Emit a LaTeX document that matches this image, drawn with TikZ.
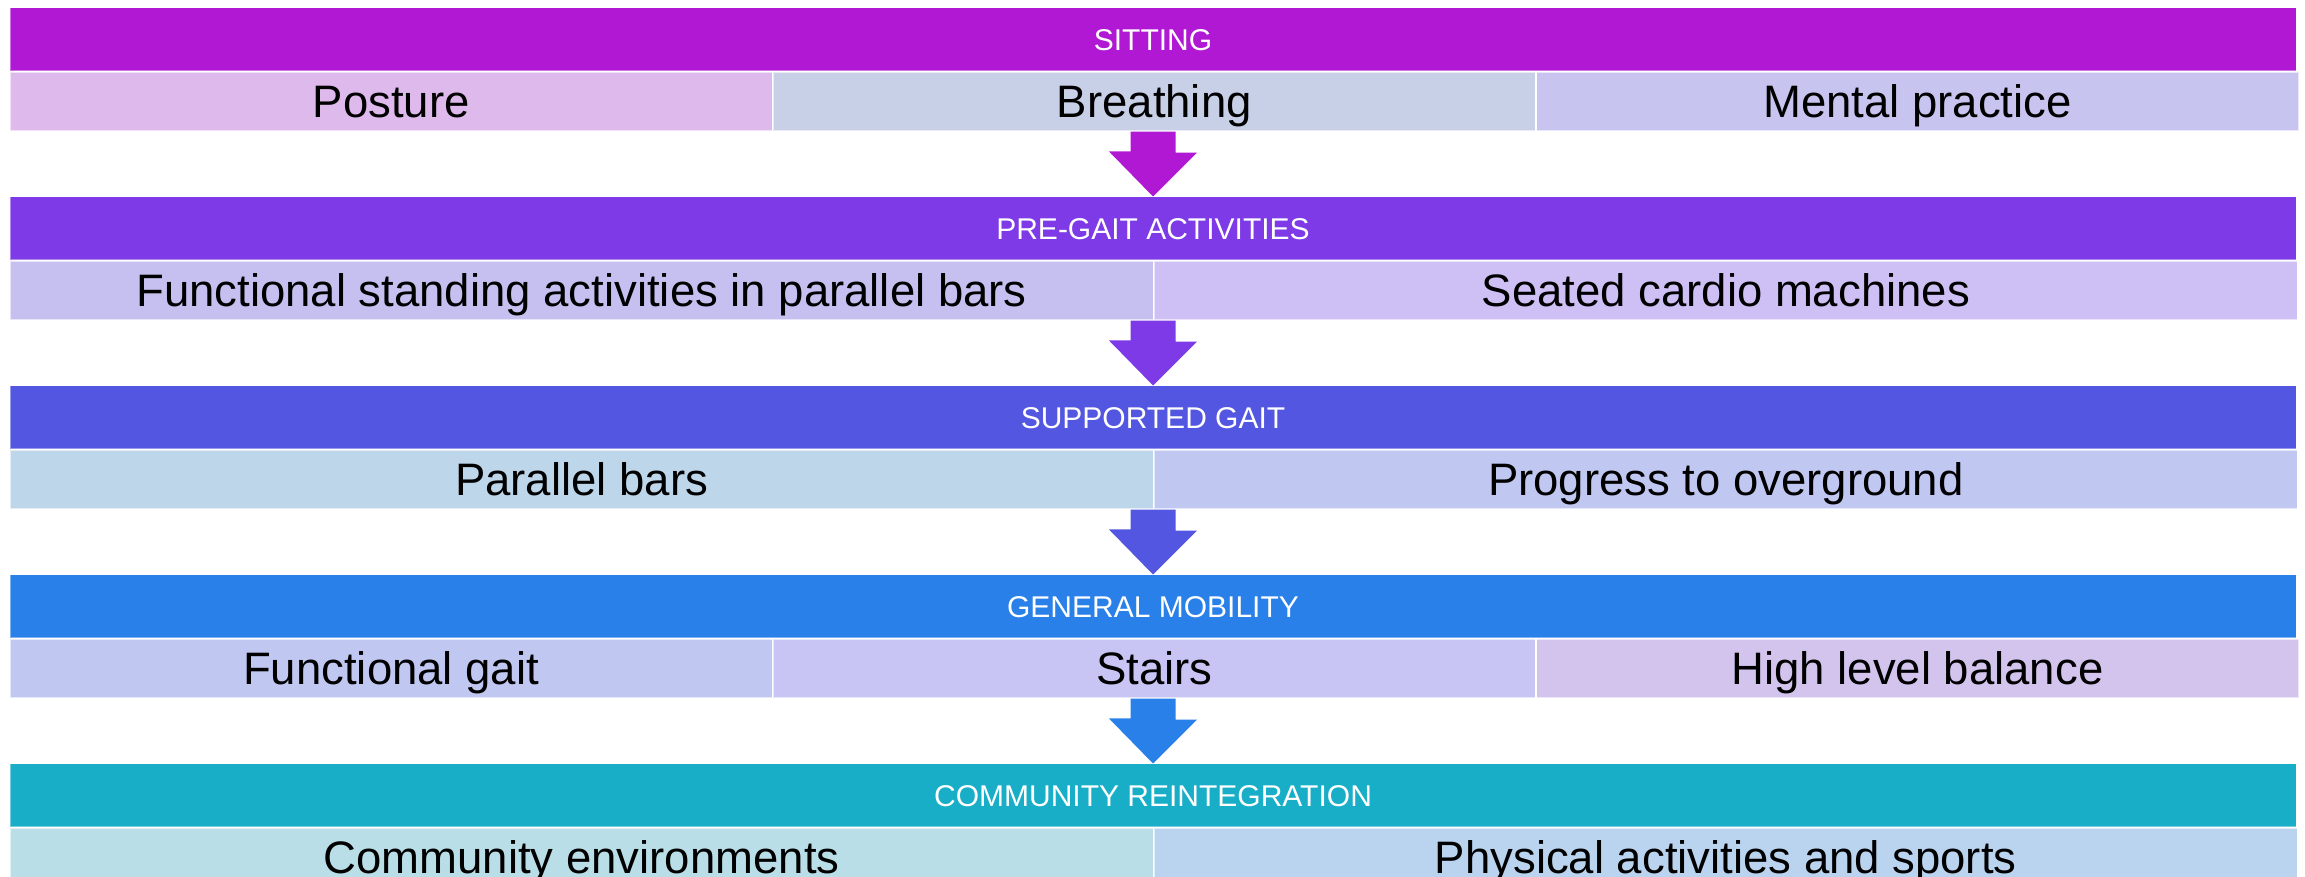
\documentclass[tikz,border=0pt]{standalone}
\usepackage{fontspec}
\setmainfont{Liberation Sans}
\usetikzlibrary{positioning, calc}

% stage colours
\definecolor{sitting}{HTML}{B018D4}
\definecolor{pregait}{HTML}{7D3AE6}
\definecolor{supported}{HTML}{5256E0}
\definecolor{mobility}{HTML}{2980E8}
\definecolor{community}{HTML}{18AEC8}
% cell colours
\definecolor{postureC}{HTML}{DEB9EB}
\definecolor{breathC}{HTML}{C8D0E8}
\definecolor{mentalC}{HTML}{C8C4F0}
\definecolor{standC}{HTML}{C6C0F0}
\definecolor{cardioC}{HTML}{CEC0F4}
\definecolor{barsC}{HTML}{BED6EA}
\definecolor{overC}{HTML}{C0C8F2}
\definecolor{gaitC}{HTML}{C0C8F2}
\definecolor{stairsC}{HTML}{C8C4F4}
\definecolor{balanceC}{HTML}{D2C4EC}
\definecolor{envC}{HTML}{B9DEE8}
\definecolor{sportC}{HTML}{BAD4F0}

\begin{document}
\begin{tikzpicture}[
    x=1pt, y=1pt,
    % Styles
    stage_bar/.style={minimum width=2286pt, minimum height=63pt, inner sep=0pt, text=white, font=\fontsize{30}{36}\selectfont, text height=21.5pt, text depth=0pt, draw=white, draw opacity=0.4, line width=1pt},
    sub_cell/.style={minimum height=59pt, inner sep=0pt, font=\fontsize{45.5}{54}\selectfont, text height=32.6pt, text depth=0pt, draw=white, draw opacity=0.6, line width=1.2pt},
    third_cell/.style={sub_cell, minimum width=762pt},
    half_cell/.style={sub_cell, minimum width=1143pt}
]
\useasboundingbox (0,0) rectangle (2305,877);

% 1. Sitting
\node[stage_bar, fill=sitting] (bar_sit) at (1153,837.5) {SITTING};
\node[third_cell, fill=postureC, below right=0pt and 0pt of bar_sit.south west] (cell_posture) {Posture};
\node[third_cell, fill=breathC, right=0pt of cell_posture] (cell_breath) {Breathing};
\node[third_cell, fill=mentalC, right=0pt of cell_breath] (cell_mental) {Mental practice};

% 2. Pre-gait activities
\node[stage_bar, fill=pregait, below=125pt of bar_sit] (bar_pre) {PRE-GAIT ACTIVITIES};
\node[half_cell, fill=standC, below right=0pt and 0pt of bar_pre.south west] (cell_stand) {Functional standing activities in parallel bars};
\node[half_cell, fill=cardioC, right=0pt of cell_stand] (cell_cardio) {Seated cardio machines};

% 3. Supported gait
\node[stage_bar, fill=supported, below=125pt of bar_pre] (bar_sup) {SUPPORTED GAIT};
\node[half_cell, fill=barsC, below right=0pt and 0pt of bar_sup.south west] (cell_bars) {Parallel bars};
\node[half_cell, fill=overC, right=0pt of cell_bars] (cell_over) {Progress to overground};

% 4. General mobility
\node[stage_bar, fill=mobility, below=125pt of bar_sup] (bar_mob) {GENERAL MOBILITY};
\node[third_cell, fill=gaitC, below right=0pt and 0pt of bar_mob.south west] (cell_gait) {Functional gait};
\node[third_cell, fill=stairsC, right=0pt of cell_gait] (cell_stairs) {Stairs};
\node[third_cell, fill=balanceC, right=0pt of cell_stairs] (cell_balance) {High level balance};

% 5. Community reintegration
\node[stage_bar, fill=community, below=125pt of bar_mob] (bar_com) {COMMUNITY REINTEGRATION};
\node[half_cell, fill=envC, below right=0pt and 0pt of bar_com.south west] (cell_env) {Community environments};
\node[half_cell, fill=sportC, right=0pt of cell_env] (cell_sport) {Physical activities and sports};

% Block arrows between stages
\foreach \fromBar/\rowCell/\toBar/\arrowCol in {bar_sit/cell_posture/bar_pre/sitting, bar_pre/cell_stand/bar_sup/pregait, bar_sup/cell_bars/bar_mob/supported, bar_mob/cell_gait/bar_com/mobility} {
    \fill[\arrowCol] ($(\fromBar.center |- \rowCell.south)+(-22.5,0)$) -- ++(45,0) -- ++(0,-21) -- ++(21.5,0)
        -- (\toBar.north) -- ($(\toBar.north)+(-44,45)$) -- ++(21.5,0) -- cycle;
}

\end{tikzpicture}
\end{document}
